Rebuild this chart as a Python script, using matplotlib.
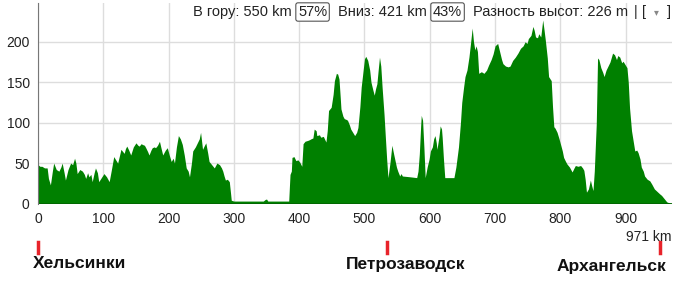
import matplotlib
matplotlib.use("Agg")
import matplotlib.pyplot as plt

# Профиль высот: расстояние (км) и высота (м)
km = [0, 3, 6, 10, 14, 16, 19, 22, 24, 28, 32, 35, 37, 40, 42, 46, 50, 53, 56, 58,
      60, 64, 68, 71, 73, 76, 78, 81, 83, 86, 88, 91, 93, 97, 101, 105, 109, 112, 116, 119,
      122, 125, 127, 130, 132, 134, 136, 139, 142, 146, 150, 153, 155, 158, 160, 163, 165, 168, 170, 173,
      175, 178, 180, 183, 186, 188, 191, 195, 198, 201, 204, 207, 209, 212, 215, 218, 221, 224, 227, 230,
      232, 235, 237, 241, 244, 247, 249, 252, 255, 257, 260, 262, 266, 270, 274, 278, 281, 283, 285, 287,
      290, 293, 295, 296, 300, 320, 345, 348, 350, 352, 384, 385, 386, 388, 389, 392, 395, 398, 401, 404,
      406, 409, 413, 416, 418, 421, 423, 426, 427, 431, 433, 437, 441, 443, 445, 447, 449, 452, 454, 457,
      459, 461, 463, 464, 467, 469, 472, 474, 477, 479, 482, 485, 488, 490, 493, 495, 498, 500, 502, 505,
      508, 510, 513, 515, 517, 519, 521, 523, 525, 527, 530, 532, 534, 536, 539, 542, 545, 549, 551, 554,
      556, 558, 570, 580, 582, 584, 586, 587, 589, 591, 593, 596, 599, 601, 604, 606, 608, 610, 611, 614,
      616, 618, 619, 621, 623, 637, 640, 644, 647, 649, 652, 654, 657, 660, 662, 665, 667, 669, 671, 673,
      675, 679, 683, 687, 690, 694, 697, 700, 704, 707, 710, 712, 716, 720, 723, 727, 731, 735, 739, 743,
      746, 749, 751, 755, 758, 760, 762, 765, 767, 770, 773, 775, 777, 780, 782, 786, 788, 790, 792, 795,
      798, 800, 803, 805, 808, 810, 814, 818, 821, 823, 827, 831, 834, 836, 838, 840, 843, 846, 848, 850,
      852, 855, 857, 859, 862, 865, 867, 870, 873, 876, 880, 883, 886, 888, 891, 894, 896, 899, 902, 904,
      906, 909, 912, 914, 917, 919, 922, 924, 927, 929, 933, 937, 940, 944, 948, 952, 955, 957, 960, 963,
      966, 971]
elev = [48, 46, 46, 44, 44, 31, 23, 40, 50, 42, 40, 45, 50, 38, 29, 42, 50, 48, 56, 50,
        37, 42, 40, 36, 31, 38, 33, 36, 27, 38, 44, 38, 27, 32, 37, 33, 27, 40, 58, 54,
        50, 60, 67, 64, 62, 68, 71, 66, 60, 70, 75, 72, 71, 74, 73, 72, 69, 64, 60, 66,
        69, 70, 69, 72, 77, 70, 60, 66, 69, 60, 52, 56, 50, 70, 84, 80, 73, 60, 44, 40,
        33, 50, 65, 70, 75, 80, 88, 67, 72, 75, 62, 52, 48, 44, 50, 48, 44, 40, 34, 29,
        30, 27, 12, 4, 3, 3, 3, 5, 5.5, 3, 3, 20, 36, 40, 57, 58, 53, 54, 51, 46,
        74, 77, 78, 79, 80, 81, 92, 90, 84, 85, 82, 83, 76, 90, 115, 117, 119, 135, 152, 161,
        160, 154, 130, 117, 108, 105, 104, 103, 97, 92, 88, 84, 88, 94, 120, 144, 165, 179, 182, 177,
        165, 150, 140, 134, 142, 148, 165, 181, 170, 144, 110, 82, 55, 32, 50, 72, 60, 45, 40, 34,
        37, 34, 33, 32, 40, 61, 95, 109, 103, 70, 32, 45, 55, 65, 70, 80, 84, 75, 67, 82,
        96, 92, 82, 55, 32, 32, 45, 70, 100, 125, 145, 157, 165, 181, 195, 217, 200, 190, 195, 188,
        161, 163, 161, 165, 171, 178, 185, 195, 198, 188, 178, 173, 170, 169, 170, 177, 181, 186, 192, 195,
        200, 198, 204, 208, 219, 214, 206, 205, 210, 206, 227, 215, 202, 180, 157, 152, 120, 95, 93, 88,
        80, 74, 65, 57, 52, 49, 45, 39, 44, 47, 46, 47, 44, 41, 30, 14, 18, 29, 22, 16,
        40, 98, 180, 178, 168, 162, 157, 165, 170, 175, 186, 184, 178, 183, 181, 174, 176, 172, 168, 150,
        118, 90, 75, 65, 66, 63, 55, 45, 40, 34, 30, 28, 24, 18, 15, 12, 10, 8, 5, 2,
        1, 0]

x_ticks = [0, 100, 200, 300, 400, 500, 600, 700, 800, 900]
y_ticks = [0, 50, 100, 150, 200]

# Города и их отметки внизу
cities = ["Хельсинки", "Петрозаводск", "Архангельск"]
city_tick_px = [38, 387, 660]
city_label_px = [33, 346, 557]
city_label_py = [263, 264, 267]

W, H = 683, 285
FONT = ["Liberation Sans", "DejaVu Sans"]
plt.rcParams["font.family"] = FONT


def fx(x):
    return x / W


def fy(y):
    return 1 - y / H


fig = plt.figure(figsize=(W / 100, H / 100), dpi=100)
ax = fig.add_axes([fx(38), fy(203.5), (672 - 38) / W, (203.5 - 3) / H])

ax.fill_between(km, elev, 0, color="#008000", linewidth=0)
ax.plot([0, 971], [0, 0], color="#006400", lw=1.2)

ax.set_xlim(0, 971)
ax.set_ylim(0, 248)
ax.set_xticks(x_ticks)
ax.set_yticks(y_ticks)
ax.tick_params(length=0, labelsize=10, colors="#222222", pad=6)
ax.grid(color="#dddddd", lw=1)
ax.set_axisbelow(True)
for s in ["top", "right", "bottom"]:
    ax.spines[s].set_visible(False)
ax.spines["left"].set_color("#777777")

# Верхняя строка со статистикой
ty = fy(12)
tk = dict(fontsize=10.5, color="#222222", va="center", ha="left")
box = dict(boxstyle="round,pad=0.15", fc="white", ec="#555555", lw=0.8)
fig.text(fx(193), ty, "В гору: 550 km", **tk)
fig.text(fx(298), ty, "57%", bbox=box, **tk)
fig.text(fx(338), ty, "Вниз: 421 km", **tk)
fig.text(fx(433), ty, "43%", bbox=box, **tk)
fig.text(fx(473), ty, "Разность высот: 226 m", **tk)
fig.text(fx(634), ty, "|", **tk)
fig.text(fx(642), ty, "[", **tk)
fig.text(fx(654), ty, "▾", fontsize=7, color="#888888", va="center", ha="left")
fig.text(fx(667), ty, "]", **tk)

fig.text(fx(672), fy(237), "971 km", fontsize=10, color="#222222", ha="right", va="center")

for name, tx, lx, ly in zip(cities, city_tick_px, city_label_px, city_label_py):
    fig.add_artist(plt.Line2D([fx(tx), fx(tx)], [fy(242), fy(253)], color="#e8232a", lw=2.5))
    fig.text(fx(lx), fy(ly), name, fontsize=12.5, fontweight="bold", color="#111111",
             ha="left", va="center")

fig.savefig("out.png", dpi=100)
